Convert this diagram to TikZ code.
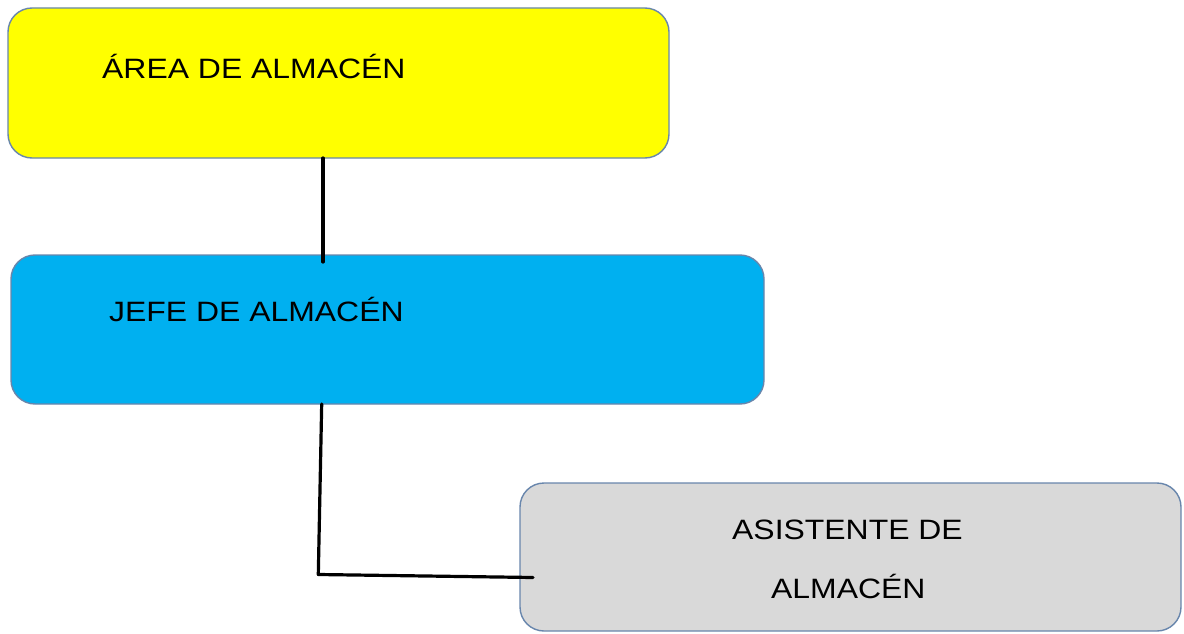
\documentclass[tikz,border=0pt]{standalone}
\usepackage{fontspec}
\newfontfamily\boxfont[FakeStretch=1.14]{Liberation Sans}
\definecolor{edge}{RGB}{104,134,172}
\definecolor{areayellow}{RGB}{255,255,0}
\definecolor{jefeblue}{RGB}{0,176,240}
\definecolor{asisgray}{RGB}{217,217,217}
\tikzset{
  orgbox/.style={draw=edge, line width=1.4pt, rounded corners=24pt,
    anchor=north west, inner sep=0pt, outer sep=0pt},
  lbl/.style={anchor=base west, inner sep=0pt, text=black,
    font=\boxfont\fontsize{28}{34}\selectfont},
  conn/.style={draw=black, line width=3.2pt, line cap=round, line join=round}
}
\begin{document}
\begin{tikzpicture}[x=1pt,y=-1pt]
  \useasboundingbox (0,0) rectangle (1184,634);
  % boxes
  \node[orgbox, fill=areayellow, minimum width=661pt, minimum height=150pt] (area) at (8,8) {};
  \node[orgbox, fill=jefeblue, minimum width=753pt, minimum height=149pt] (jefe) at (11,255) {};
  \node[orgbox, fill=asisgray, minimum width=661pt, minimum height=148pt] (asis) at (520,483) {};
  % labels
  \node[lbl] (areatxt) at (102,78) {ÁREA DE ALMACÉN};
  \node[lbl] (jefetxt) at (109,321) {JEFE DE ALMACÉN};
  \node[lbl] (asis1) at (732,539) {ASISTENTE DE};
  \node[lbl] (asis2) at (771,598) {ALMACÉN};
  % connectors
  \coordinate (j1) at (323,262);
  \coordinate (k0) at (321.7,403);
  \coordinate (k1) at (318.3,574.5);
  \coordinate (k2) at (533,577.5);
  \draw[conn] (area.south -| j1) -- (j1);
  \draw[conn] (jefe.south -| k0) -- (k1) -- (k2);
\end{tikzpicture}
\end{document}
